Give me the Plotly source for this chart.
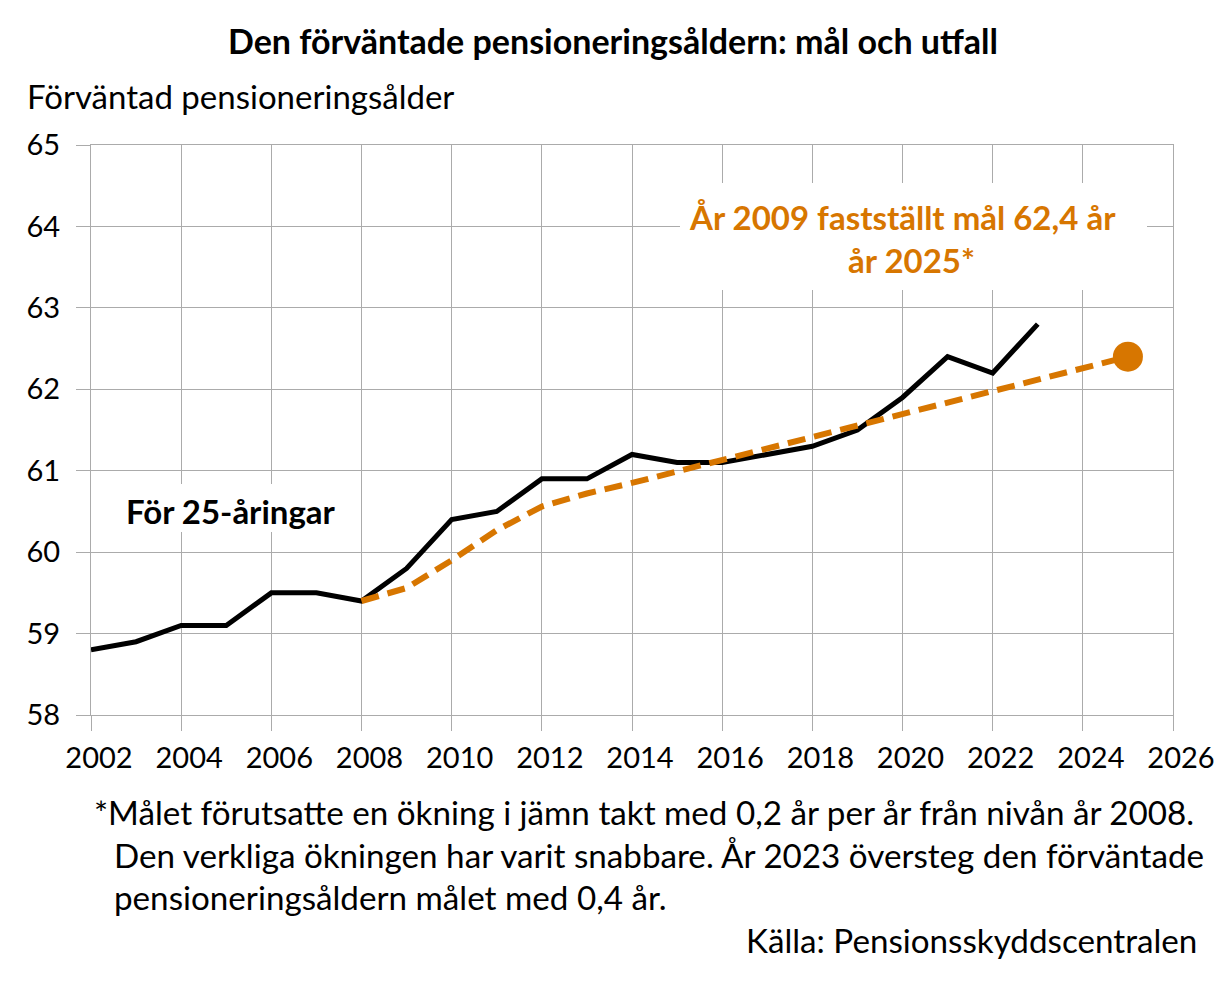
import plotly.graph_objects as go

years = list(range(2002, 2024))
actual = [58.8, 58.9, 59.1, 59.1, 59.5, 59.5, 59.4, 59.8, 60.4, 60.5, 60.9,
          60.9, 61.2, 61.1, 61.1, 61.2, 61.3, 61.5, 61.9, 62.4, 62.2, 62.8]

target_years = list(range(2008, 2026))
target = [59.4, 59.56, 59.9, 60.27, 60.56, 60.72, 60.85, 60.99, 61.13, 61.27,
          61.41, 61.55, 61.69, 61.84, 61.98, 62.12, 62.26, 62.4]

goal_year = [2025]
goal_value = [62.4]

x_ticks = list(range(2002, 2027, 2))
y_ticks = list(range(58, 66))

ORANGE = "#D77600"
GRID = "#ABABAB"
FONT = "Lato"

fig = go.Figure()
fig.add_trace(go.Scatter(x=years, y=actual, mode="lines",
                         line=dict(color="black", width=5),
                         showlegend=False))
fig.add_trace(go.Scatter(x=target_years, y=target, mode="lines",
                         line=dict(color=ORANGE, width=6, dash="18px,9px"),
                         hoverinfo="skip", showlegend=False))
fig.add_trace(go.Scatter(x=goal_year, y=goal_value, mode="markers",
                         marker=dict(color=ORANGE, size=30),
                         showlegend=False))

W, H = 1232, 982
L, R, T, B = 91, 1173, 145, 715
pw, ph = R - L, B - T

def px(x):
    return (x - L) / pw

def py(y):
    return (B - y) / ph

fig.update_layout(
    width=W, height=H,
    margin=dict(l=L, r=W - R, t=T, b=H - B),
    paper_bgcolor="white", plot_bgcolor="white",
    font=dict(family=FONT, color="black"),
    xaxis=dict(range=[2002, 2026], tickvals=x_ticks, showgrid=True,
               gridcolor=GRID, gridwidth=1.3, zeroline=False,
               showline=True, linecolor=GRID, linewidth=1.3, mirror=True,
               ticks="outside", ticklen=15, tickcolor=GRID, tickwidth=1.3,
               ticklabelstandoff=2, ticklabelshift=8,
               tickfont=dict(size=29, family=FONT, color="black")),
    yaxis=dict(range=[58, 65], tickvals=y_ticks, showgrid=True,
               gridcolor=GRID, gridwidth=1.3, zeroline=False,
               showline=True, linecolor=GRID, linewidth=1.3, mirror=True,
               ticks="outside", ticklen=14, tickcolor=GRID, tickwidth=1.3,
               ticklabelstandoff=10,
               tickfont=dict(size=29, family=FONT, color="black")),
)

# white label boxes covering the gridlines behind the text
fig.add_shape(type="rect", xref="paper", yref="paper",
              x0=px(680), x1=px(1147), y0=py(290), y1=py(183),
              fillcolor="white", line=dict(width=0), layer="above")
fig.add_shape(type="rect", xref="paper", yref="paper",
              x0=px(110), x1=px(352), y0=py(532), y1=py(484),
              fillcolor="white", line=dict(width=0), layer="above")

ann = []
ann.append(dict(text="<b>Den förväntade pensioneringsåldern: mål och utfall</b>",
                x=px(613), y=py(40), xref="paper", yref="paper",
                xanchor="center", yanchor="middle", showarrow=False,
                font=dict(size=34, family=FONT, color="black")))
ann.append(dict(text="Förväntad pensioneringsålder",
                x=px(25), y=py(96), xref="paper", yref="paper",
                xanchor="left", yanchor="middle", showarrow=False,
                font=dict(size=33, family=FONT, color="black")))
ann.append(dict(text="<b>År 2009 fastställt mål 62,4 år</b>",
                x=px(902), y=py(217), xref="paper", yref="paper",
                xanchor="center", yanchor="middle", showarrow=False,
                font=dict(size=33, family=FONT, color=ORANGE)))
ann.append(dict(text="<b>år 2025*</b>",
                x=px(911), y=py(260), xref="paper", yref="paper",
                xanchor="center", yanchor="middle", showarrow=False,
                font=dict(size=33, family=FONT, color=ORANGE)))
ann.append(dict(text="<b>För 25-åringar</b>",
                x=px(231), y=py(511), xref="paper", yref="paper",
                xanchor="center", yanchor="middle", showarrow=False,
                font=dict(size=33, family=FONT, color="black")))
foot = [("*Målet förutsatte en ökning i jämn takt med 0,2 år per år från nivån år 2008.", 92, 812),
        ("Den verkliga ökningen har varit snabbare. År 2023 översteg den förväntade", 112, 855),
        ("pensioneringsåldern målet med 0,4 år.", 112, 897)]
for t, xx, yy in foot:
    ann.append(dict(text=t, x=px(xx), y=py(yy), xref="paper", yref="paper",
                    xanchor="left", yanchor="middle", showarrow=False,
                    font=dict(size=33.2, family=FONT, color="black")))
ann.append(dict(text="Källa: Pensionsskyddscentralen",
                x=px(1199), y=py(940), xref="paper", yref="paper",
                xanchor="right", yanchor="middle", showarrow=False,
                font=dict(size=33.2, family=FONT, color="black")))
fig.update_layout(annotations=ann)

fig.write_html("out.html", config={"displayModeBar": False},
               post_script="document.body.style.margin='0';document.body.style.overflow='hidden';")
